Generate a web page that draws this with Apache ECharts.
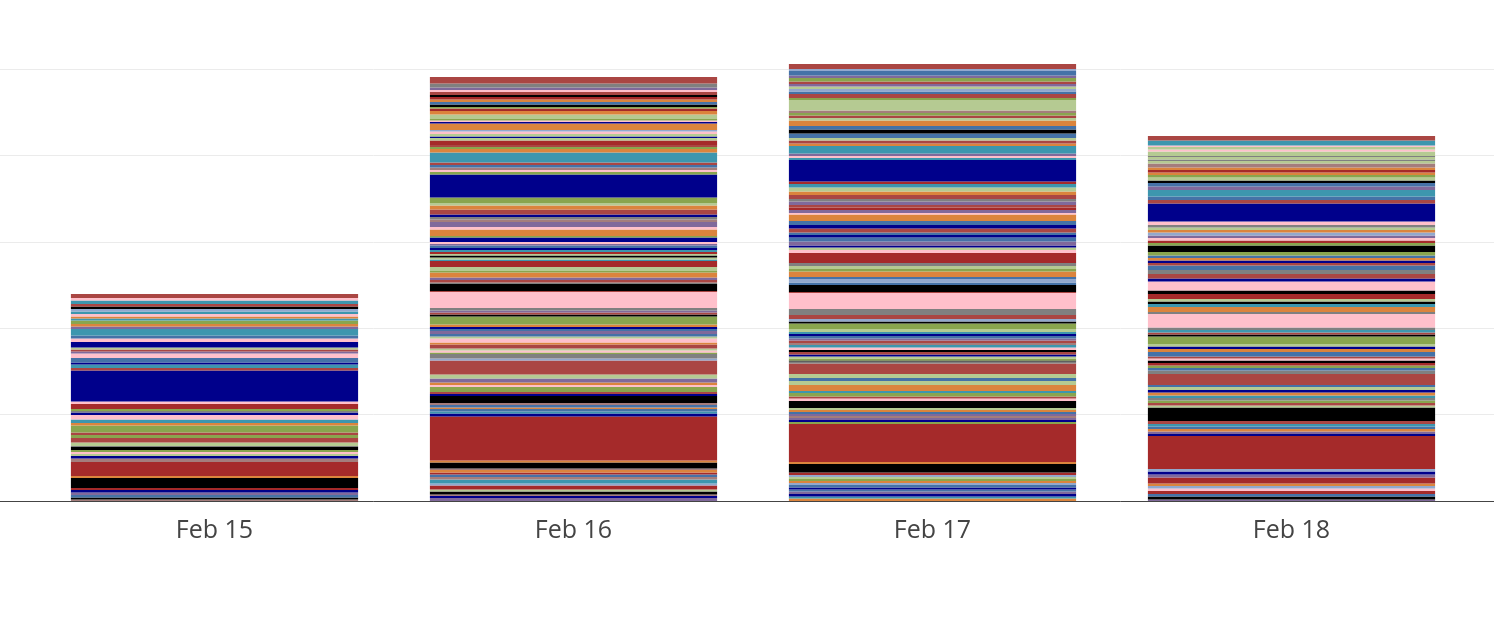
<!DOCTYPE html>
<html>
<head>
<meta charset="utf-8">
<script src="https://cdn.jsdelivr.net/npm/echarts@6/dist/echarts.min.js"></script>
<style>
  html, body { margin: 0; padding: 0; background: #fff; }
  #chart { width: 1494px; height: 630px; }
</style>
</head>
<body>
<div id="chart"></div>
<script>
// categories
const days = ['Feb 15', 'Feb 16', 'Feb 17', 'Feb 18'];

// trace colour codes
const palette = {
  B: '#A52A2A', K: '#000000', D: '#00008B', P: '#FFC0CB', G: '#808080',
  S: '#4572A7', R: '#AA4643', O: '#89A54E', U: '#80699B', T: '#3D96AE',
  N: '#DB843D', L: '#92A8CD', M: '#A47D7C', E: '#B5CA92'
};

// stacked pieces, bottom to top, one list per day
const feb15Traces = 'M K S U D B K N B M D E P O K G E R O R O N T P D G O B P D R T D S P U R E D P S T U N O T N P T L K R T P R'.split(' ');
const feb15Values = [1.5, 2, 2.5, 2.5, 2.5, 2, 10, 2, 14, 3.5, 2.5, 2, 2, 2, 3, 1, 3.5, 4.5, 3, 2.5, 7, 2.5, 3.5, 4.5, 2.5, 1.5, 2, 5, 2.5, 31, 2.5, 3.5, 2, 4.5, 4.5, 2, 2, 2, 5.5, 3.5, 3, 6.5, 2.5, 2.5, 3.5, 2, 2, 2.5, 2.5, 2.5, 2.5, 2.5, 3.5, 2.5, 4];

const feb16Traces = 'U D M K E B L T M S B N M K N B D T S N S M K D R O P N U E R L G O P E R N P E S U S D N O K R U G P R K G R U N O E B T E K E B T D S U P D O N P U M G D R N E O D O P M S R T N O R B E D E P L N D P O E N B O K S N B K R P U G R'.split(' ');
const feb16Values = [3, 2, 1.5, 3, 2, 4, 2, 4, 2.5, 2.5, 2, 2.5, 1.5, 6, 2, 44, 3, 2, 2.5, 1.5, 2.5, 2, 7, 2, 2, 5, 2, 2.5, 4, 4, 14, 2, 4.5, 1.5, 2, 2, 4, 2, 4, 2, 2.5, 3, 2, 2, 2.5, 8, 2, 2, 2, 2.5, 16, 1, 7, 1.5, 2.5, 2.5, 5, 1.5, 4, 6, 1.5, 2, 2, 1.5, 2, 2, 2, 2.5, 1.5, 2, 4.5, 1.5, 6.5, 2.5, 5, 2.5, 2.5, 2.5, 5, 4, 2.5, 5.5, 23, 2.5, 2, 2.5, 2.5, 2.5, 10, 3.5, 2, 2, 4.5, 2.5, 1.5, 2.5, 2.5, 1.5, 6.5, 1.5, 1.5, 1.5, 4.5, 3.5, 2.5, 1.5, 2.5, 2.5, 2.5, 2.5, 2, 3, 2, 2.5, 4, 6.5];

const feb17Traces = 'N T D U S D S L N O E L B K N B O D U M U S N E K P R O T N E S E R G K O E D R K P T M R U S D T E O K L R G P R K S L S N O E G B P E D U S D S R D S N P U B R U G R N E T B D T P U T N R E S K S N E R O M E O R S L E U R O U S L R'.split(' ');
const feb17Values = [2.5, 2, 2.5, 2.5, 2, 2, 2.5, 2, 2, 2, 2, 2, 2.5, 8.5, 2, 38, 2, 2, 2, 2, 2, 2, 2, 2, 7, 2.5, 2, 3.5, 2, 6, 4, 3, 4, 10.5, 2, 1, 2, 2, 2, 2.5, 2, 2.5, 2.5, 2, 2.5, 2, 2.5, 2, 2, 3, 5.5, 2, 2.5, 4, 6, 16, 1, 7, 2.5, 3.5, 2, 5.5, 2.5, 3, 3, 10, 3, 2.5, 2, 4, 4, 2.5, 2.5, 4, 3.5, 4, 6.5, 1.5, 3, 2.5, 2.5, 3.5, 2.5, 4, 3.5, 4, 3.5, 2.5, 21.5, 2, 2, 2.5, 7.5, 2.5, 3, 2.5, 4.5, 4, 3.5, 5.5, 2.5, 2.5, 2.5, 2.5, 10.5, 2, 4, 2.5, 2.5, 2.5, 2.5, 2.5, 3.5, 2.5, 4.5, 2, 5];

const feb18Traces = 'U K S B P L N B U D L B D U N S T R K E R O G T N D E S R G S O B K P R S N D E O K R T G P G N T K E B K P D R G S R D N S O K O B P U L N E G P D R S T U S K E O N B N M E G E G E P E P T R'.split(' ');
const feb18Values = [1.5, 3, 2.5, 3, 2.5, 2.5, 2.5, 6, 3, 3, 2.5, 33, 2, 2.5, 2.5, 2.5, 2.5, 3, 13.5, 2, 2.5, 2.5, 2.5, 2.5, 3, 2.5, 3, 2, 11, 3.5, 2.5, 2.5, 2.5, 2.5, 2, 2, 4.5, 3, 2.5, 2.5, 7.5, 2, 2, 2.5, 2.5, 13.5, 2, 5, 3, 2.5, 2.5, 5, 3.5, 9, 3, 4.5, 4, 4.5, 2.5, 2.5, 2.5, 2.5, 3.5, 6.5, 2.5, 2.5, 2.5, 2.5, 3, 2.5, 2.5, 2.5, 3.5, 18, 3.5, 3.5, 6.5, 3.5, 3.5, 2.5, 3, 2.5, 2.5, 2.5, 2.5, 4, 2.5, 1.5, 2.5, 1, 4.5, 2, 2.5, 1.5, 5, 4.5];

const dayTraces = [feb15Traces, feb16Traces, feb17Traces, feb18Traces];
const dayValues = [feb15Values, feb16Values, feb17Values, feb18Values];

const chart = echarts.init(document.getElementById('chart'), null, { renderer: 'canvas' });

// one stacked series per layer; each day keeps its own colour at that layer
const layers = Math.max(...dayValues.map(v => v.length));
const series = [];
for (let i = 0; i < layers; i++) {
  series.push({
    type: 'bar',
    stack: 'total',
    xAxisIndex: 1,
    yAxisIndex: 1,
    barCategoryGap: '20%',
    silent: true,
    data: days.map((d, j) => i < dayValues[j].length
      ? { value: dayValues[j][i], itemStyle: { color: palette[dayTraces[j][i]] } }
      : '-')
  });
}

const option = {
  animation: false,
  backgroundColor: '#fff',
  grid: [
    { left: 0, right: 0, top: 26, bottom: 129 },  // full width, grid lines + baseline
    { left: 35, right: 23, top: 26, bottom: 129 } // bars
  ],
  xAxis: [
    {
      gridIndex: 0, type: 'value', min: 0, max: 1, z: 10,
      axisLine: { show: true, lineStyle: { color: '#444', width: 1 } },
      axisTick: { show: false }, axisLabel: { show: false }, splitLine: { show: false }
    },
    {
      gridIndex: 1, type: 'category', data: days,
      axisLine: { show: false }, axisTick: { show: false },
      axisLabel: { color: '#444', fontFamily: 'Open Sans', fontSize: 25, margin: 17 }
    }
  ],
  yAxis: [
    {
      gridIndex: 0, type: 'value', min: 0, max: 475, interval: 86.4,
      axisLine: { show: false }, axisTick: { show: false }, axisLabel: { show: false },
      splitLine: { show: true, showMaxLine: false, lineStyle: { color: '#ebebeb', width: 1 } }
    },
    {
      gridIndex: 1, type: 'value', min: 0, max: 475,
      show: false, splitLine: { show: false }
    }
  ],
  series: series
};

chart.setOption(option);
</script>
</body>
</html>
